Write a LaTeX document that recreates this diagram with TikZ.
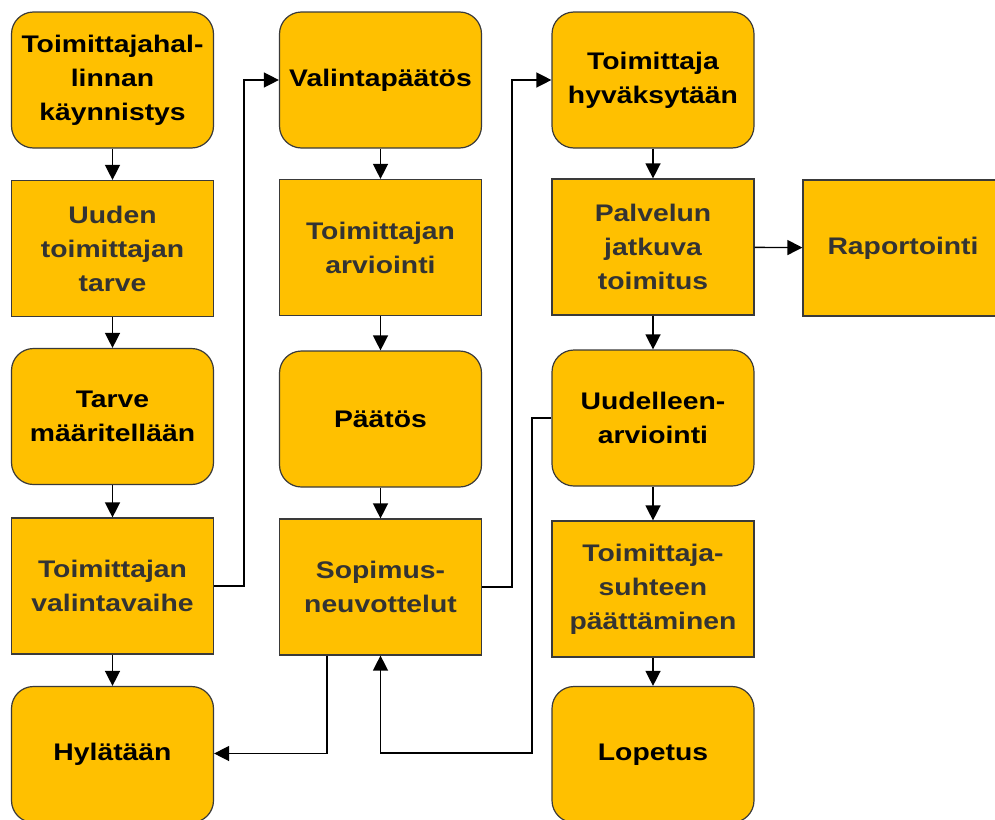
\documentclass[tikz,border=0pt]{standalone}
\usepackage{fontspec}
\setmainfont[FakeStretch=1.18]{Liberation Sans}
\usetikzlibrary{arrows.meta}
\definecolor{boxfill}{HTML}{FFC000}
\definecolor{boxline}{HTML}{3A3A3A}
\definecolor{grtext}{HTML}{333333}
\tikzset{
  base/.style={draw=boxline, line width=1.2pt, fill=boxfill, minimum width=202pt,
    minimum height=136pt, inner sep=2pt, align=center,
    font=\bfseries\fontsize{24}{34}\selectfont},
  roundbox/.style={base, rounded corners=22pt, text=black},
  sqbox/.style={base, text=grtext},
  arr/.style={draw=black, line width=1.4pt, -{Triangle[length=15pt,width=15pt]}}
}
\begin{document}
\begin{tikzpicture}[x=1pt,y=-1pt]
\useasboundingbox (0,0) rectangle (995,819);
\clip (0,0) rectangle (995,819);
% first column
\node[roundbox] (A) at (112.5,80) {Toimittajahal-\\linnan\\käynnistys};
\node[sqbox] (B) at (112.5,248.5) {Uuden\\toimittajan\\tarve};
\node[roundbox] (C) at (112.5,416.5) {Tarve\\määritellään};
\node[sqbox] (D) at (112.5,586) {Toimittajan\\valintavaihe};
\node[roundbox] (E) at (112.5,754.5) {Hylätään};
% second column
\node[roundbox] (F) at (380.5,80) {Valintapäätös};
\node[sqbox] (G) at (380.5,247.5) {Toimittajan\\arviointi};
\node[roundbox] (H) at (380.5,419) {Päätös};
\node[sqbox] (I) at (380.5,587) {Sopimus-\\neuvottelut};
% third column
\node[roundbox] (J) at (653,80) {Toimittaja\\hyväksytään};
\node[sqbox] (K) at (653,247) {Palvelun\\jatkuva\\toimitus};
\node[roundbox] (L) at (653,418) {Uudelleen-\\arviointi};
\node[sqbox] (M) at (653,589) {Toimittaja-\\suhteen\\päättäminen};
\node[roundbox] (N) at (653,754.5) {Lopetus};
\node[sqbox, minimum width=200pt] (R) at (903,248) {Raportointi};
% vertical flow
\draw[arr] (A) -- (B);
\draw[arr] (B) -- (C);
\draw[arr] (C) -- (D);
\draw[arr] (D) -- (E);
\draw[arr] (F) -- (G);
\draw[arr] (G) -- (H);
\draw[arr] (H) -- (I);
\draw[arr] (J) -- (K);
\draw[arr] (K) -- (L);
\draw[arr] (L) -- (M);
\draw[arr] (M) -- (N);
\draw[arr] (K) -- (R);
% cross-column links
\draw[arr] (D.east) -- ++(30,0) |- (F.west);
\draw[arr] (I.east) -- ++(30,0) |- (J.west);
\coordinate (idrop) at ([xshift=-53.5]I.south);
\draw[arr] (idrop) |- ([yshift=1]E.east);
\coordinate (lowturn) at (532,753);
\draw[arr] (L.west) -| (lowturn) -| (I.south);
\end{tikzpicture}
\end{document}
